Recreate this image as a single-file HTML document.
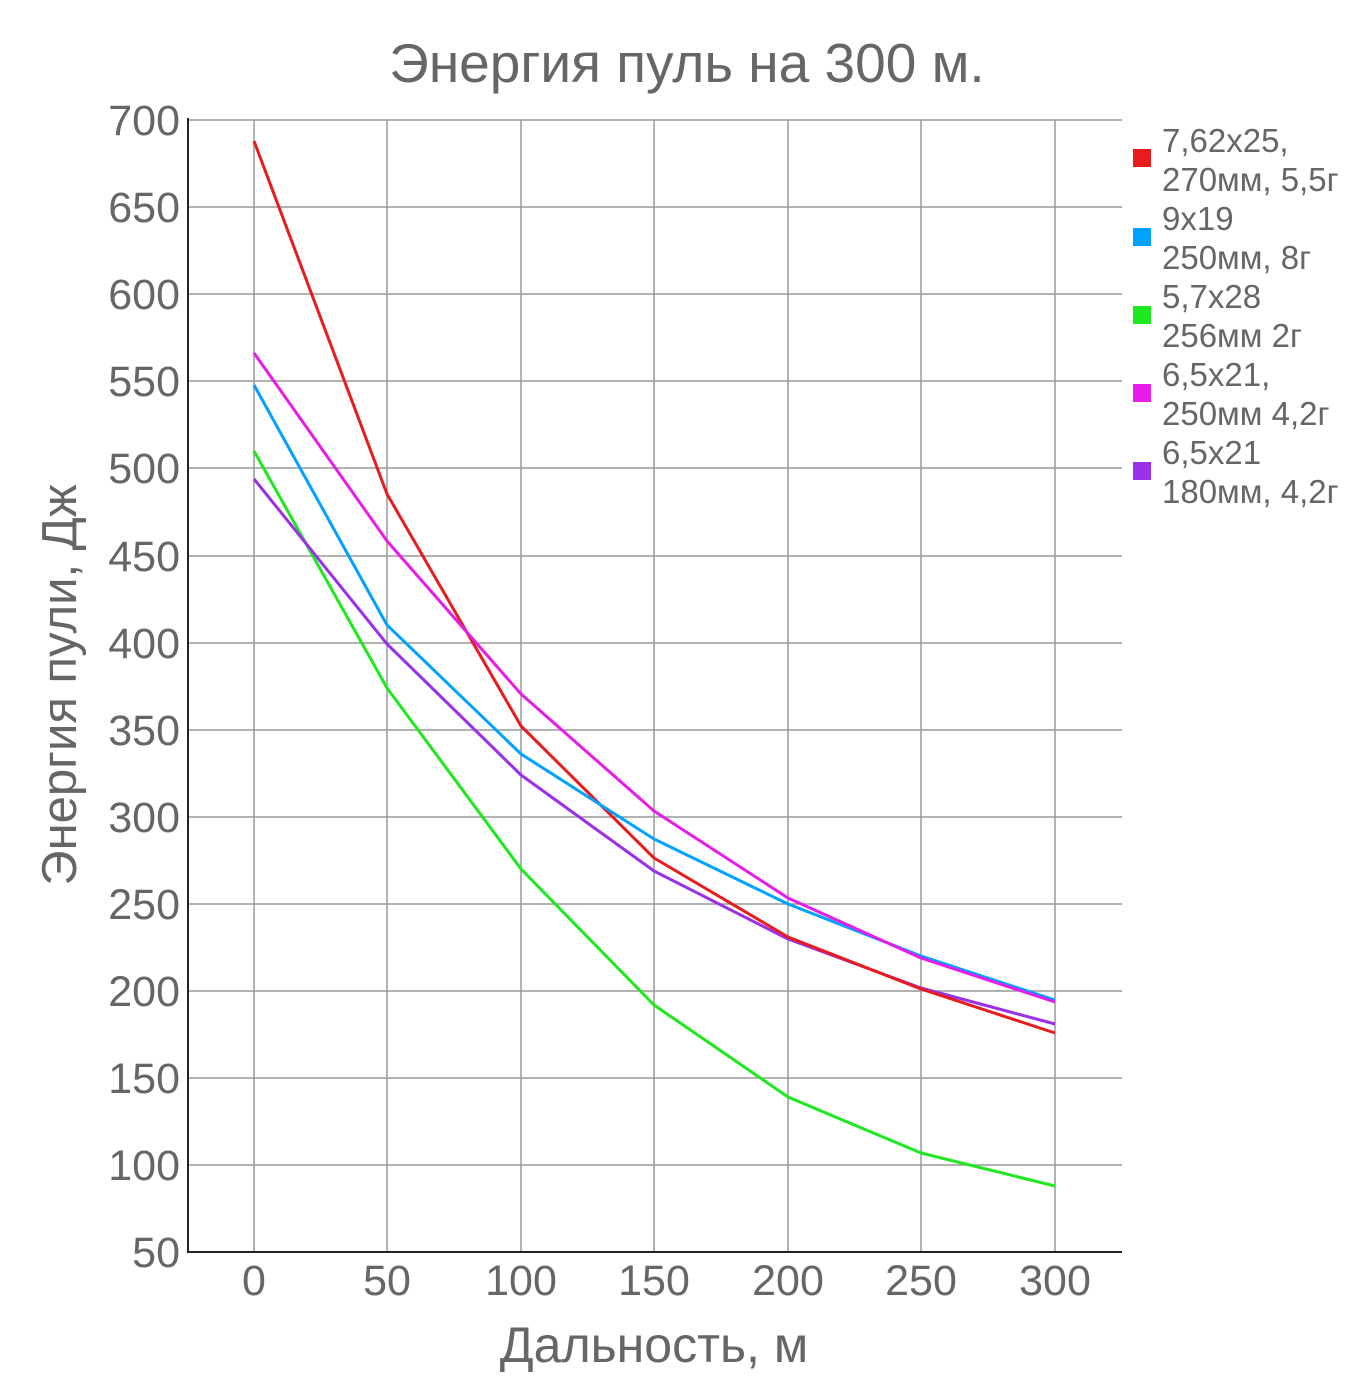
<!DOCTYPE html>
<html><head><meta charset="utf-8"><style>body{margin:0;background:#fff}svg{display:block}text{font-family:"Liberation Sans",sans-serif;fill:#666}</style></head><body>
<svg width="1370" height="1398" viewBox="0 0 1370 1398">
<text x="687" y="82" font-size="55" text-anchor="middle">Энергия пуль на 300 м.</text>
<g stroke="#999" stroke-width="1.5">
<line x1="188" y1="120" x2="1122" y2="120"/><line x1="188" y1="207" x2="1122" y2="207"/><line x1="188" y1="294" x2="1122" y2="294"/><line x1="188" y1="381" x2="1122" y2="381"/><line x1="188" y1="468" x2="1122" y2="468"/><line x1="188" y1="556" x2="1122" y2="556"/><line x1="188" y1="643" x2="1122" y2="643"/><line x1="188" y1="730" x2="1122" y2="730"/><line x1="188" y1="817" x2="1122" y2="817"/><line x1="188" y1="904" x2="1122" y2="904"/><line x1="188" y1="991" x2="1122" y2="991"/><line x1="188" y1="1078" x2="1122" y2="1078"/><line x1="188" y1="1165" x2="1122" y2="1165"/>
<line x1="254" y1="120" x2="254" y2="1252"/><line x1="387" y1="120" x2="387" y2="1252"/><line x1="521" y1="120" x2="521" y2="1252"/><line x1="654" y1="120" x2="654" y2="1252"/><line x1="788" y1="120" x2="788" y2="1252"/><line x1="921" y1="120" x2="921" y2="1252"/><line x1="1055" y1="120" x2="1055" y2="1252"/>
</g>
<g stroke="#222" stroke-width="2"><line x1="188" y1="118" x2="188" y2="1253"/><line x1="188" y1="1252" x2="1122" y2="1252"/></g>
<g font-size="43" text-anchor="end">
<text x="180" y="135">700</text><text x="180" y="222">650</text><text x="180" y="309">600</text><text x="180" y="396">550</text><text x="180" y="483">500</text><text x="180" y="571">450</text><text x="180" y="658">400</text><text x="180" y="745">350</text><text x="180" y="832">300</text><text x="180" y="919">250</text><text x="180" y="1006">200</text><text x="180" y="1093">150</text><text x="180" y="1180">100</text><text x="180" y="1267">50</text>
</g>
<g font-size="43" text-anchor="middle">
<text x="254" y="1295">0</text><text x="387" y="1295">50</text><text x="521" y="1295">100</text><text x="654" y="1295">150</text><text x="788" y="1295">200</text><text x="921" y="1295">250</text><text x="1055" y="1295">300</text>
</g>
<text x="654" y="1362" font-size="50" text-anchor="middle">Дальность, м</text>
<text transform="translate(76,685) rotate(-90)" font-size="49" text-anchor="middle">Энергия пули, Дж</text>
<g fill="none" stroke-width="3" stroke-linejoin="round">
<polyline stroke="#1ee81e" points="254,451 387,688 521,869 654,1005 788,1097 921,1153 1055,1186"/>
<polyline stroke="#9b30e6" points="254,479 387,644 521,775 654,871 788,939 921,988 1055,1024"/>
<polyline stroke="#e81c1c" points="254,141 387,494 521,726 654,858 788,937 921,989 1055,1033"/>
<polyline stroke="#00a2ff" points="254,385 387,625 521,754 654,839 788,904 921,956 1055,1000"/>
<polyline stroke="#e81ce8" points="254,353 387,541 521,694 654,811 788,898 921,958 1055,1002"/>
</g>
<rect x="1133" y="149" width="18" height="18" fill="#e81c1c"/>
<rect x="1133" y="228" width="18" height="18" fill="#00a2ff"/>
<rect x="1133" y="306" width="18" height="18" fill="#1ee81e"/>
<rect x="1133" y="384" width="18" height="18" fill="#e81ce8"/>
<rect x="1133" y="462" width="18" height="18" fill="#9b30e6"/>
<g font-size="33">
<text x="1162" y="152">7,62x25,</text><text x="1162" y="191">270мм, 5,5г</text>
<text x="1162" y="230">9x19</text><text x="1162" y="269">250мм, 8г</text>
<text x="1162" y="308">5,7x28</text><text x="1162" y="347">256мм 2г</text>
<text x="1162" y="386">6,5x21,</text><text x="1162" y="425">250мм 4,2г</text>
<text x="1162" y="464">6,5x21</text><text x="1162" y="503"> 180мм, 4,2г</text>
</g>
</svg>
</body></html>
